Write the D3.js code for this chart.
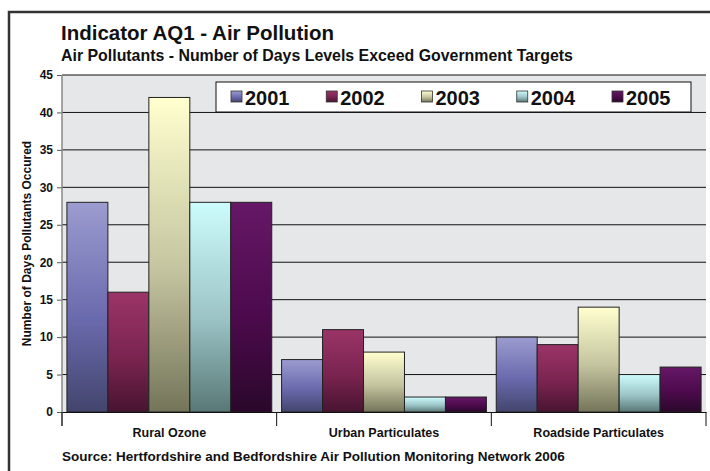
<!DOCTYPE html>
<html>
<head>
<meta charset="utf-8">
<script src="https://cdn.jsdelivr.net/npm/d3@7"></script>
<style>
  body { margin: 0; background: #fff; }
  svg { display: block; font-family: "Liberation Sans", Arial, Helvetica, sans-serif; font-weight: bold; }
</style>
</head>
<body>
<svg id="chart"></svg>
<script>
var categories = ["Rural Ozone", "Urban Particulates", "Roadside Particulates"];
var years = ["2001", "2002", "2003", "2004", "2005"];
var v2001 = [28, 7, 10];
var v2002 = [16, 11, 9];
var v2003 = [42, 8, 14];
var v2004 = [28, 2, 5];
var v2005 = [28, 2, 6];
var yTicks = [0, 5, 10, 15, 20, 25, 30, 35, 40, 45];

// light -> mid -> dark for each series
var shades = {
  "2001": ["#9c9cd0", "#6a6aae", "#43456d"],
  "2002": ["#9b3468", "#7a2450", "#481430"],
  "2003": ["#ffffcf", "#c4c4a0", "#74745a"],
  "2004": ["#cdfcfc", "#9cc4c6", "#587876"],
  "2005": ["#661866", "#4c0a4c", "#2a082a"]
};

var series = [v2001, v2002, v2003, v2004, v2005];
var rows = categories.map(function(c, i) {
  return { cat: c, vals: years.map(function(yr, j) { return { year: yr, value: series[j][i] }; }) };
});

var width = 710, height = 471;
var svg = d3.select("#chart").attr("width", width).attr("height", height);

var defs = svg.append("defs");
years.forEach(function(yr) {
  var g = defs.append("linearGradient")
    .attr("id", "grad" + yr)
    .attr("x1", 0).attr("y1", 0).attr("x2", 0).attr("y2", 1);
  g.append("stop").attr("offset", "0%").attr("stop-color", shades[yr][0]);
  g.append("stop").attr("offset", "55%").attr("stop-color", shades[yr][1]);
  g.append("stop").attr("offset", "100%").attr("stop-color", shades[yr][2]);
});

// outer frame (runs off the page on right/bottom)
svg.append("rect")
  .attr("x", 9).attr("y", 12).attr("width", 720).attr("height", 480)
  .attr("fill", "none").attr("stroke", "#333").attr("stroke-width", 2.5);

var plotLeft = 62, plotRight = 706, plotTop = 75, plotBottom = 412;

var x0 = d3.scaleBand().domain(categories).range([plotLeft, plotRight]);
var x1 = d3.scaleBand().domain(years).range([0, x0.bandwidth()]).paddingOuter(0.12);
var y = d3.scaleLinear().domain([0, 45]).range([plotBottom, plotTop]);

// plot background
svg.append("rect")
  .attr("x", plotLeft).attr("y", plotTop)
  .attr("width", plotRight - plotLeft).attr("height", plotBottom - plotTop)
  .attr("fill", "#e6e7e8");

// gridlines
svg.append("g")
  .selectAll("line")
  .data(yTicks.filter(function(d) { return d > 0; }))
  .enter().append("line")
    .attr("x1", plotLeft).attr("x2", plotRight)
    .attr("y1", function(d) { return y(d); })
    .attr("y2", function(d) { return y(d); })
    .attr("stroke", "#111").attr("stroke-width", 1);

// y axis
var yAxis = svg.append("g")
  .attr("transform", "translate(" + plotLeft + ",0)")
  .call(d3.axisLeft(y).tickValues(yTicks).tickSize(5).tickPadding(4));
yAxis.select(".domain").remove();
yAxis.selectAll(".tick line").attr("stroke", "#555");
yAxis.selectAll("text").style("font-size", "12px").style("font-weight", "bold")
  .style("font-family", "'Liberation Sans', Arial, sans-serif").attr("fill", "#111");

svg.append("line")
  .attr("x1", plotLeft).attr("x2", plotLeft).attr("y1", plotTop).attr("y2", 426)
  .attr("stroke", "#888").attr("stroke-width", 1.5);

// bars
var groups = svg.append("g")
  .selectAll("g")
  .data(rows)
  .enter().append("g")
    .attr("transform", function(d) { return "translate(" + x0(d.cat) + ",0)"; });

groups.selectAll("rect")
  .data(function(d) { return d.vals; })
  .enter().append("rect")
    .attr("x", function(d) { return x1(d.year); })
    .attr("width", x1.bandwidth())
    .attr("y", function(d) { return y(d.value); })
    .attr("height", function(d) { return y(0) - y(d.value); })
    .attr("fill", function(d) { return "url(#grad" + d.year + ")"; })
    .attr("stroke", "#222").attr("stroke-width", 1);

// category axis
var xAxis = svg.append("g")
  .attr("transform", "translate(0," + plotBottom + ")")
  .call(d3.axisBottom(x0).tickSize(0).tickPadding(16));
xAxis.select(".domain").attr("stroke", "#111");
xAxis.selectAll("text").style("font-size", "12.5px").style("font-weight", "bold")
  .style("font-family", "'Liberation Sans', Arial, sans-serif").attr("fill", "#111");

svg.append("g")
  .selectAll("line")
  .data(categories.concat(["end"]))
  .enter().append("line")
    .attr("x1", function(d) { return d === "end" ? plotRight : x0(d); })
    .attr("x2", function(d) { return d === "end" ? plotRight : x0(d); })
    .attr("y1", plotBottom).attr("y2", 426)
    .attr("stroke", "#111");

// legend
var legend = svg.append("g");
legend.append("rect")
  .attr("x", 216).attr("y", 82).attr("width", 475).attr("height", 30)
  .attr("fill", "#fff").attr("stroke", "#111").attr("stroke-width", 1);

var lx = d3.scalePoint().domain(years).range([231, 612]);
var items = legend.selectAll("g.item")
  .data(years)
  .enter().append("g")
    .attr("class", "item")
    .attr("transform", function(d) { return "translate(" + lx(d) + ",0)"; });
items.append("rect")
  .attr("x", 0).attr("y", 91).attr("width", 11).attr("height", 11)
  .attr("fill", function(d) { return "url(#grad" + d + ")"; })
  .attr("stroke", "#333").attr("stroke-width", 0.8);
items.append("text")
  .attr("x", 14).attr("y", 105)
  .style("font-size", "20px")
  .attr("fill", "#111")
  .text(function(d) { return d; });

// titles
svg.append("text")
  .attr("x", 61).attr("y", 40)
  .style("font-size", "20.5px").attr("fill", "#111")
  .text("Indicator AQ1 - Air Pollution");
svg.append("text")
  .attr("x", 61).attr("y", 61)
  .style("font-size", "15.9px").attr("fill", "#111")
  .text("Air Pollutants - Number of Days Levels Exceed Government Targets");

svg.append("text")
  .attr("transform", "translate(31," + ((plotTop + plotBottom) / 2) + ") rotate(-90)")
  .attr("text-anchor", "middle")
  .style("font-size", "12px").attr("fill", "#111")
  .text("Number of Days Pollutants Occured");

svg.append("text")
  .attr("x", 62).attr("y", 461)
  .style("font-size", "13.5px").attr("fill", "#111")
  .text("Source: Hertfordshire and Bedfordshire Air Pollution Monitoring Network 2006");
</script>
</body>
</html>
